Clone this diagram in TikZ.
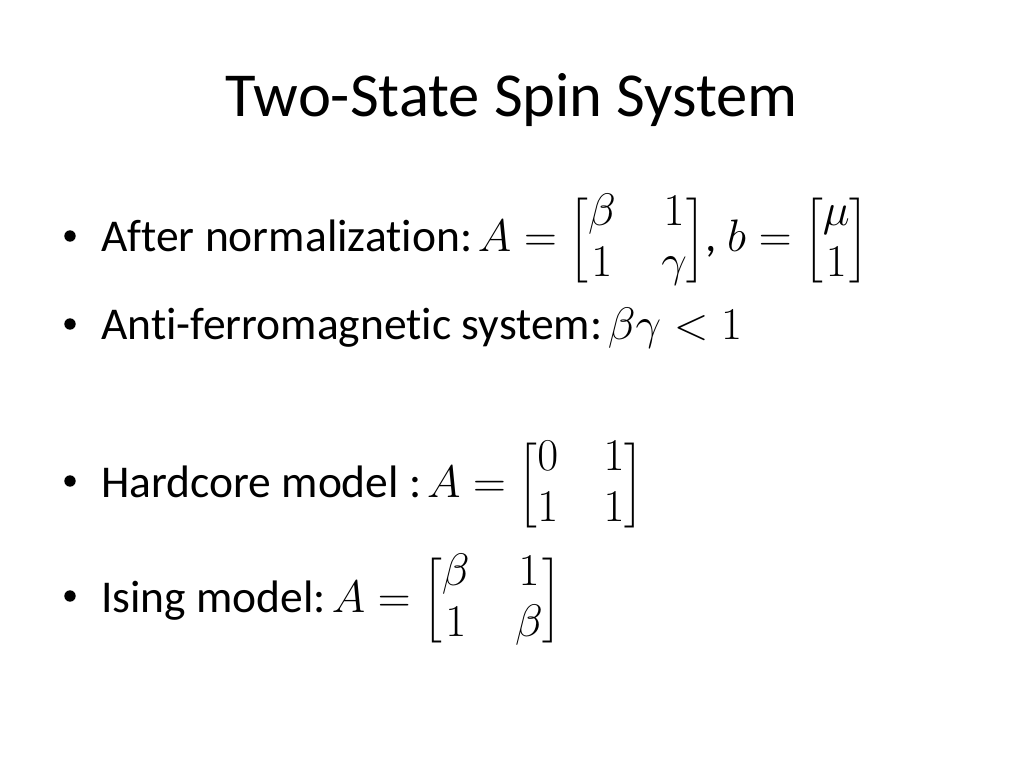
\RequirePackage{fix-cm}
\documentclass[tikz,border=0pt]{standalone}
\usepackage{amsmath}
\usepackage{fontspec}
\setmainfont{Carlito}[Ligatures={NoCommon}]
\setlength{\arraycolsep}{16pt}
\renewcommand{\arraystretch}{0.95}
\delimiterfactor=700
\delimitershortfall=20pt
\newcommand{\mgap}{\kern4pt}
\newcommand{\smat}[1]{\smash{\begin{bmatrix}#1\end{bmatrix}}}
\tikzset{
  titletext/.style={anchor=base, inner sep=0pt, font=\fontsize{44}{53}\selectfont},
  bodytext/.style={anchor=base west, inner sep=0pt, font=\fontsize{32}{38}\selectfont},
  bulletmark/.style={circle, fill=black, inner sep=0pt, minimum size=8pt}
}
\begin{document}
\begin{tikzpicture}[x=0.703125pt, y=-0.703125pt]
\useasboundingbox (0,0) rectangle (1024,768);
\fill[white] (0,0) rectangle (1024,768);
\node[titletext] (title) at (512,117) {Two-State Spin System};
\node[bulletmark] (b1) at (70,236) {};
\node[bodytext] (t1) at (101,252) {After normalization:\mgap$A=\smat{\beta & 1\\ 1 & \gamma}$, $b=\smat{\mu\\ 1}$};
\node[bulletmark] (b2) at (70,324) {};
\node[bodytext] (t2) at (101,340) {Anti-ferromagnetic system:\mgap$\beta\gamma<1$};
\node[bulletmark] (b3) at (70,481) {};
\node[bodytext] (t3) at (101,497) {Hardcore model :\mgap$A=\smat{0 & 1\\ 1 & 1}$};
\node[bulletmark] (b4) at (70,596) {};
\node[bodytext] (t4) at (101,612) {Ising model:\mgap$A=\smat{\beta & 1\\ 1 & \beta}$};
\end{tikzpicture}
\end{document}
